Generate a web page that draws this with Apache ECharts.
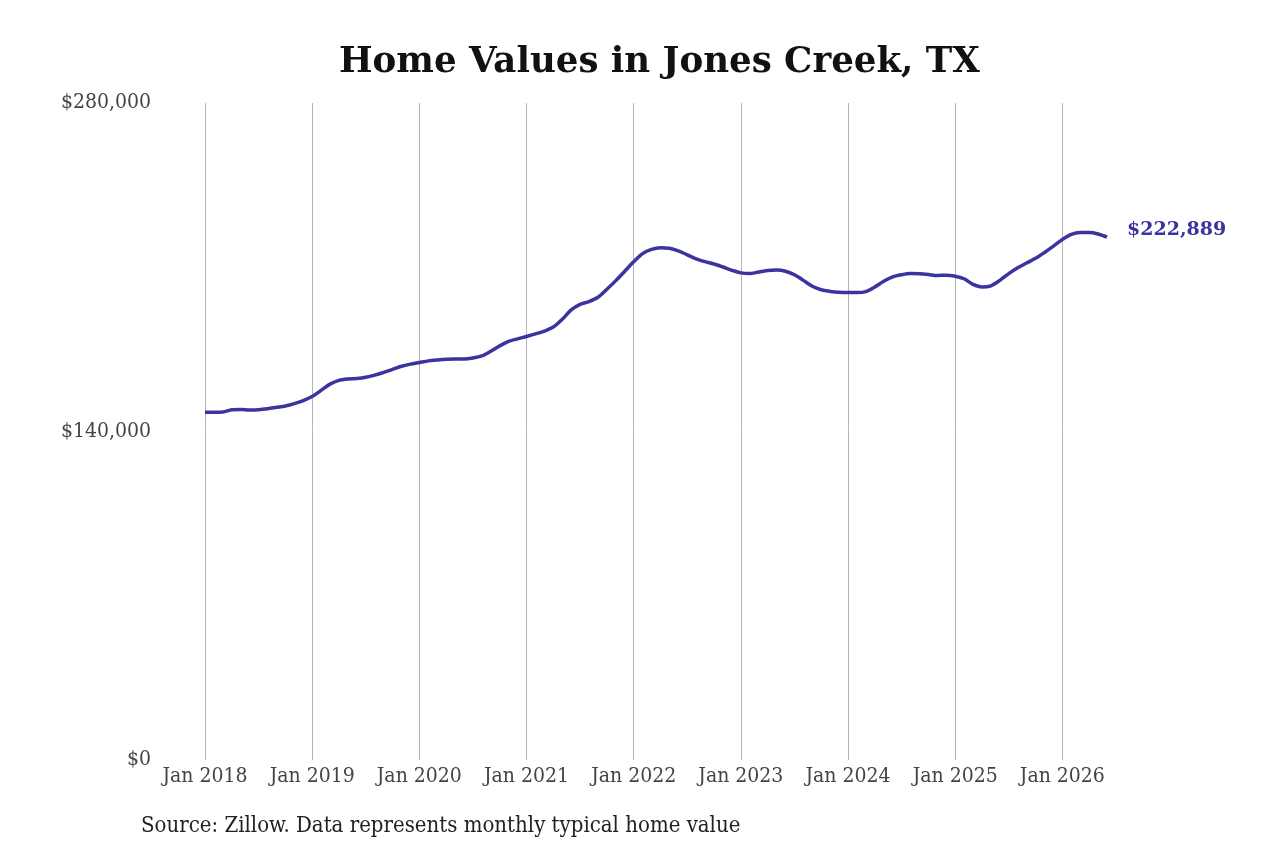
<!DOCTYPE html>
<html lang="en">
<head>
    <meta charset="UTF-8">
    <title>Home Values in Jones Creek, TX</title>
    <script src="https://cdn.jsdelivr.net/npm/echarts@6/dist/echarts.min.js"></script>
</head>
<style>
    body{
        width: 100%;
        height: 100%;
        margin: 0;
        padding: 0;
        background: #fff;
    }
</style>
<body>
<div id="main" style="width: 1280px;height:853px;"></div>
<script>
    // monthly typical home value, Jan 2018 - Jun 2026
    var startYear = 2018;
    var monthNames = ['Jan','Feb','Mar','Apr','May','Jun','Jul','Aug','Sep','Oct','Nov','Dec'];
    var values = [
        148200, 148200, 148300, 149300, 149400, 149200, 149300, 149700, 150300, 150900, 151900, 153200,
        154900, 157500, 160200, 161800, 162400, 162600, 163100, 164000, 165200, 166500, 167800, 168700,
        169400, 170100, 170500, 170800, 170900, 170900, 171300, 172200, 174200, 176500, 178400, 179500,
        180500, 181600, 182800, 184500, 187800, 191800, 194200, 195400, 197200, 200600, 204300, 208300,
        212300, 215800, 217600, 218300, 218100, 217000, 215300, 213600, 212400, 211400, 210100, 208700,
        207600, 207300, 208000, 208600, 208800, 208300, 206800, 204400, 201900, 200400, 199700, 199300,
        199200, 199200, 199600, 201600, 204000, 205900, 206800, 207300, 207200, 206900, 206500, 206600,
        206200, 205100, 202700, 201600, 202100, 204400, 207300, 209800, 211800, 213800, 216300, 219000,
        221800, 224000, 224800, 224800, 224200, 222889
    ];
    var yTicks = [0, 140000, 280000];

    var months = [];
    for (var i = 0; i < values.length; i++) {
        months.push(monthNames[i % 12] + ' ' + (startYear + Math.floor(i / 12)));
    }

    var font = "'DejaVu Serif Condensed', 'DejaVu Serif', serif";
    var chart = echarts.init(document.getElementById('main'));
    var option = {
        animation: false,
        title: {
            text: 'Home Values in Jones Creek, TX',
            left: 334,
            top: 40,
            textStyle: {fontFamily: "'DejaVu Serif', serif", fontWeight: 'bold', fontSize: 35.6, color: '#111'}
        },
        graphic: [{
            type: 'text',
            left: 141,
            top: 815,
            style: {
                text: 'Source: Zillow. Data represents monthly typical home value',
                font: "22px 'DejaVu Serif Condensed', 'DejaVu Serif', serif",
                fill: '#222'
            }
        }],
        grid: {left: 205, right: 173, top: 103, bottom: 93, containLabel: false},
        xAxis: {
            type: 'category',
            data: months,
            boundaryGap: false,
            axisLine: {show: false},
            axisTick: {show: false},
            axisLabel: {
                interval: function (idx) { return idx % 12 === 0; },
                fontFamily: font, fontSize: 21, color: '#444', margin: 6
            },
            splitLine: {
                show: true,
                interval: function (idx) { return idx % 12 === 0; },
                lineStyle: {color: '#b5b5b5', width: 1}
            }
        },
        yAxis: {
            type: 'value',
            min: yTicks[0],
            max: yTicks[2],
            interval: 140000,
            splitLine: {show: false},
            axisLine: {show: false},
            axisTick: {show: false},
            axisLabel: {
                fontFamily: font, fontSize: 21, color: '#444', margin: 54,
                formatter: function (v) { return '$' + v.toLocaleString('en-US'); }
            }
        },
        series: [{
            type: 'line',
            data: values,
            smooth: 0.3,
            symbol: 'none',
            lineStyle: {color: '#3a33a0', width: 3.5},
            endLabel: {
                show: true,
                distance: 20,
                offset: [0, -7],
                formatter: function (p) { return '$' + p.value.toLocaleString('en-US'); },
                fontFamily: "'DejaVu Serif', serif",
                fontWeight: 'bold',
                fontSize: 19,
                color: '#3a33a0'
            }
        }]
    };
    chart.setOption(option);
</script>
</body>
</html>
